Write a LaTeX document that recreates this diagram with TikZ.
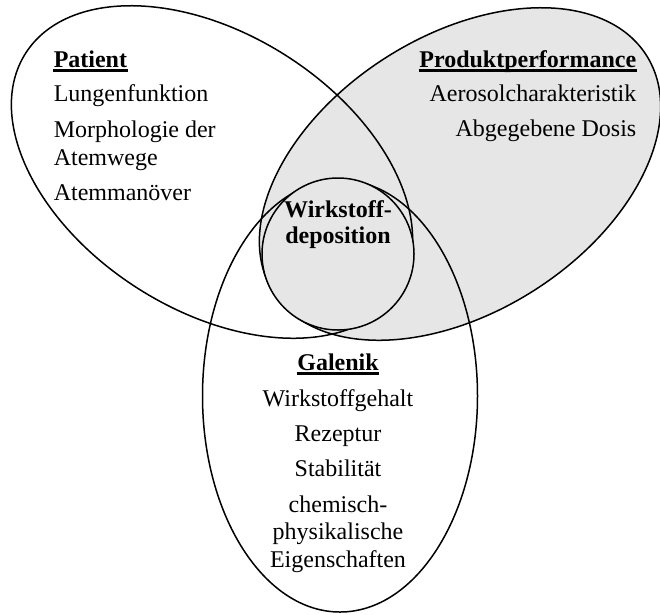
\documentclass[tikz,border=0pt]{standalone}
\usepackage{fontspec}
\setmainfont{Liberation Serif}
\definecolor{venngray}{RGB}{230,230,230}
\begin{document}
\begin{tikzpicture}[x=1pt,y=-1pt,line width=1.5pt,
  lbl/.style={inner sep=0pt,font=\fontsize{24}{28}\selectfont},
  hdr/.style={inner sep=0pt,font=\fontsize{24}{28}\selectfont\bfseries},
  uline/.style={line width=2.6pt}]
\useasboundingbox (0,0) rectangle (660,614);
% Produktperformance (filled)
\fill[venngray,rotate around={32.5:(460,174)}] (460,174) ellipse [x radius=221,y radius=138];
\draw[rotate around={32.5:(460,174)}] (460,174) ellipse [x radius=221,y radius=138];
% Patient
\draw[rotate around={-32.5:(212,172)}] (212,172) ellipse [x radius=221,y radius=138];
% Galenik
\draw (340,396) ellipse [x radius=137.5,y radius=216];
% centre circle
\filldraw[fill=venngray] (338,254) circle [radius=76];

% Patient texts
\node[hdr,anchor=base west] (pat) at (53,67) {Patient};
\draw[uline] ([yshift=-3.5pt]pat.base west) -- ([yshift=-3.5pt]pat.base east);
\node[lbl,anchor=base west] (p1) at (53,101.5) {Lungenfunktion};
\node[lbl,anchor=base west] (p2) at (53,137) {Morphologie der};
\node[lbl,anchor=base west] (p3) at (53,165) {Atemwege};
\node[lbl,anchor=base west] (p4) at (53,200.5) {Atemmanöver};

% Produktperformance texts
\node[hdr,anchor=base east] (prod) at (637,67) {Produktperformance};
\draw[uline] ([yshift=-3.5pt]prod.base west) -- ([yshift=-3.5pt]prod.base east);
\node[lbl,anchor=base east] (q1) at (637,101) {Aerosolcharakteristik};
\node[lbl,anchor=base east] (q2) at (637,136.7) {Abgegebene Dosis};

% centre
\node[hdr,anchor=base] (w1) at (338,217) {Wirkstoff-};
\node[hdr,anchor=base] (w2) at (338,243.3) {deposition};

% Galenik texts
\node[hdr,anchor=base] (gal) at (338,370) {Galenik};
\draw[uline] ([yshift=-3.5pt]gal.base west) -- ([yshift=-3.5pt]gal.base east);
\node[lbl,anchor=base] (g1) at (338,406) {Wirkstoffgehalt};
\node[lbl,anchor=base] (g2) at (338,441) {Rezeptur};
\node[lbl,anchor=base] (g3) at (338,476.7) {Stabilität};
\node[lbl,anchor=base] (g4) at (338,512.3) {chemisch-};
\node[lbl,anchor=base] (g5) at (338,539.3) {physikalische};
\node[lbl,anchor=base] (g6) at (338,567.3) {Eigenschaften};
\end{tikzpicture}
\end{document}
